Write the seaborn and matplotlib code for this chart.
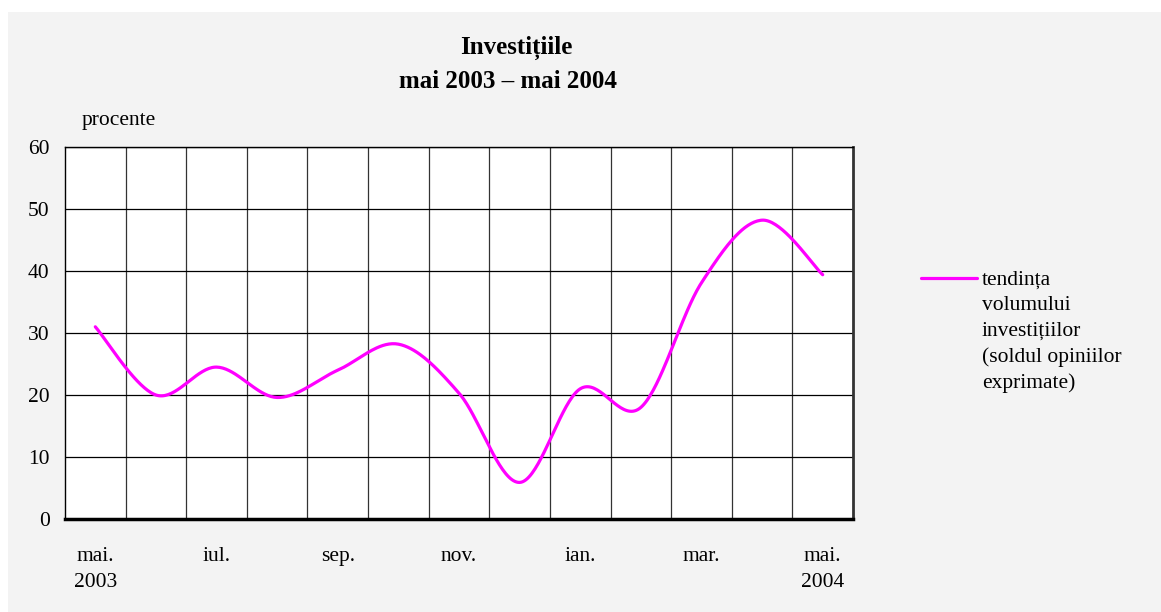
import matplotlib.pyplot as plt
import numpy as np
import pandas as pd
import seaborn as sns
from matplotlib.lines import Line2D
from matplotlib.patches import Rectangle

sns.set_style("white")
plt.rcParams["font.family"] = ["Liberation Serif", "DejaVu Serif"]
plt.rcParams["text.color"] = "black"
plt.rcParams["xtick.color"] = "black"
plt.rcParams["ytick.color"] = "black"

# Data
month_labels = ["mai.\n2003", "iun.", "iul.", "aug.", "sep.", "oct.", "nov.",
                "dec.", "ian.", "feb.", "mar.", "apr.", "mai.\n2004"]
investment_trend = [31.0, 20.0, 24.5, 19.6, 24.0, 28.2, 20.3,
                    5.9, 21.0, 18.0, 38.1, 48.2, 39.4]
series_label = "tendința\nvolumului\ninvestițiilor\n(soldul opiniilor\nexprimate)"

LINE_COLOR = "#ff00ff"
BG_COLOR = "#f3f3f3"


def smooth_curve(y, steps=40):
    # Excel-like smoothed line: cubic Bezier with Catmull-Rom control points
    y = np.asarray(y, dtype=float)
    x = np.arange(len(y), dtype=float)
    pts = np.column_stack([x, y])
    padded = np.vstack([pts[0], pts, pts[-1]])
    out = []
    t = np.linspace(0, 1, steps)[:, None]
    for i in range(len(pts) - 1):
        p0, p1, p2, p3 = padded[i], padded[i + 1], padded[i + 2], padded[i + 3]
        c1 = p1 + (p2 - p0) / 6
        c2 = p2 - (p3 - p1) / 6
        seg = ((1 - t) ** 3) * p1 + 3 * ((1 - t) ** 2) * t * c1 \
            + 3 * (1 - t) * t ** 2 * c2 + t ** 3 * p2
        out.append(seg if i == 0 else seg[1:])
    out = np.vstack(out)
    return pd.DataFrame({"x": out[:, 0], "y": out[:, 1]})


def main():
    W, H = 1161, 612
    fig = plt.figure(figsize=(W / 100, H / 100), dpi=100)
    fig.patch.set_facecolor("white")
    fig.patches.append(Rectangle((8 / W, 0), 1, (H - 12) / H,
                                 transform=fig.transFigure,
                                 facecolor=BG_COLOR, edgecolor="none", zorder=-10))

    ax = fig.add_axes([65 / W, (H - 519) / H, (853 - 65) / W, (519 - 147) / H])
    ax.set_facecolor("white")

    curve = smooth_curve(investment_trend)
    sns.lineplot(data=curve, x="x", y="y", sort=False, estimator=None,
                 color=LINE_COLOR, linewidth=2.3, legend=False, ax=ax)

    n = len(month_labels)
    ax.set_xlim(-0.5, n - 0.5)
    ax.set_ylim(0, 60)

    ax.set_xticks(np.arange(0, n, 2))
    ax.set_xticklabels([month_labels[i] for i in range(0, n, 2)],
                       fontsize=15.5, linespacing=1.55)
    ax.set_xticks(np.arange(0.5, n - 1, 1), minor=True)
    ax.tick_params(axis="x", which="both", length=0, pad=20)

    ax.set_yticks(np.arange(0, 61, 10))
    ax.set_yticks(np.arange(0, 61, 2), minor=True)
    ax.tick_params(axis="y", which="major", direction="out", length=7,
                   width=1, labelsize=15.5, pad=4)
    ax.tick_params(axis="y", which="minor", direction="in", length=5, width=1)

    ax.grid(axis="y", which="major", color="black", linewidth=0.9)
    ax.grid(axis="x", which="minor", color="#333333", linewidth=0.9)
    ax.set_axisbelow(True)

    ax.set_xlabel("")
    ax.set_ylabel("")

    for side in ["top", "left"]:
        ax.spines[side].set_color("black")
        ax.spines[side].set_linewidth(1)
    ax.spines["right"].set_color("#333333")
    ax.spines["right"].set_linewidth(2)
    ax.spines["bottom"].set_color("black")
    ax.spines["bottom"].set_linewidth(2.5)

    fig.text(516 / W, 1 - 48 / H, "Investițiile", ha="center", va="center",
             fontsize=18, fontweight="bold")
    fig.text(508 / W, 1 - 82 / H, "mai 2003 – mai 2004", ha="center",
             va="center", fontsize=18, fontweight="bold")
    fig.text(82 / W, 1 - 121 / H, "procente", ha="left", va="center",
             fontsize=15.5)

    # legend: magenta key next to the first line of a multi-line label
    fig.add_artist(Line2D([921 / W, 977 / W], [1 - 278 / H, 1 - 278 / H],
                          transform=fig.transFigure, color=LINE_COLOR,
                          linewidth=2.3))
    fig.text(982 / W, 1 - 271 / H, series_label, ha="left", va="top",
             fontsize=15.5, linespacing=1.44)

    fig.savefig("out.png", dpi=100, facecolor=fig.get_facecolor())
    plt.close(fig)


if __name__ == "__main__":
    main()
